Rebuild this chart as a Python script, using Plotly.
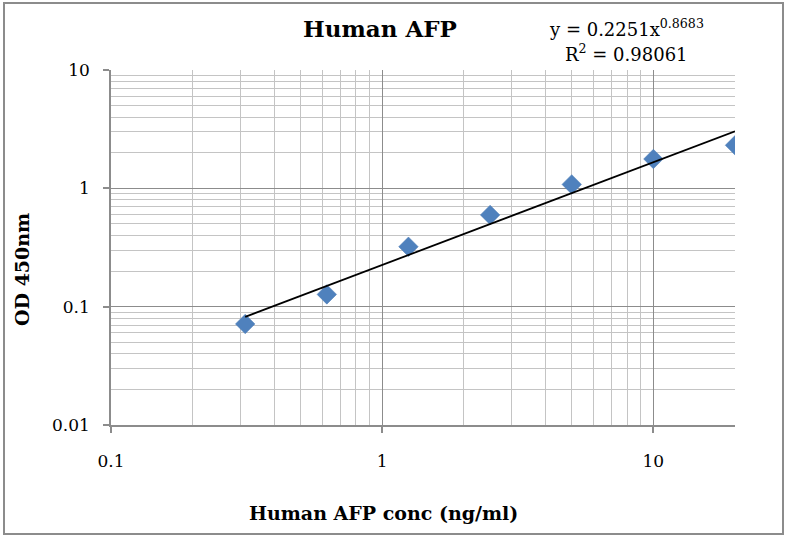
import plotly.graph_objects as go

# Data
conc = [0.3125, 0.625, 1.25, 2.5, 5, 10, 20]
od = [0.0714, 0.127, 0.321, 0.596, 1.08, 1.77, 2.31]

# Power trendline coefficients shown on the chart
fit_a = 0.2251
fit_b = 0.8683
fit_r2 = 0.98061

x_major = [0.1, 1, 10]
x_major_text = ["0.1", "1", "10"]
y_major = [0.01, 0.1, 1, 10]
y_major_text = ["0.01", "0.1", "1", "10"]

x_minor = [m * d for d in (0.1, 1) for m in range(2, 10)] + [20]
y_minor = [m * d for d in (0.01, 0.1, 1) for m in range(2, 10)]

trend_x = [conc[0], conc[-1]]
trend_y = [fit_a * v ** fit_b for v in trend_x]

FONT = "DejaVu Serif"
GRID_MAJOR = "#8c8c8c"
GRID_MINOR = "#c4c4c4"

fig = go.Figure()
fig.add_trace(go.Scatter(
    x=conc, y=od, mode="markers",
    marker=dict(symbol="diamond", size=15, color="#4f81bd",
                line=dict(color="#4a7ab5", width=0.5)),
    showlegend=False,
))
fig.add_trace(go.Scatter(
    x=trend_x, y=trend_y, mode="lines",
    line=dict(color="black", width=1.8),
    showlegend=False,
))

fig.update_layout(
    width=789, height=536,
    margin=dict(l=111, r=54, t=70, b=111),
    paper_bgcolor="white", plot_bgcolor="white",
    font=dict(family=FONT, size=16, color="black"),
    xaxis=dict(
        type="log", range=[-1, 1.30103],
        tickmode="array", tickvals=x_major, ticktext=x_major_text,
        showgrid=True, gridcolor=GRID_MAJOR, gridwidth=1,
        showline=True, linecolor=GRID_MAJOR, linewidth=1.5,
        ticks="outside", ticklen=6, tickcolor=GRID_MAJOR, tickwidth=1.5,
        tickfont=dict(family=FONT, size=17), ticklabelstandoff=14,
        minor=dict(tickmode="array", tickvals=x_minor, showgrid=True,
                   gridcolor=GRID_MINOR, gridwidth=1, ticks=""),
        zeroline=False,
    ),
    yaxis=dict(
        type="log", range=[-2, 1],
        tickmode="array", tickvals=y_major, ticktext=y_major_text,
        showgrid=True, gridcolor=GRID_MAJOR, gridwidth=1,
        showline=True, linecolor=GRID_MAJOR, linewidth=1.5,
        ticks="outside", ticklen=6, tickcolor=GRID_MAJOR, tickwidth=1.5,
        tickfont=dict(family=FONT, size=17), ticklabelstandoff=10,
        minor=dict(tickmode="array", tickvals=y_minor, showgrid=True,
                   gridcolor=GRID_MINOR, gridwidth=1, ticks=""),
        zeroline=False,
    ),
    shapes=[dict(type="rect", xref="paper", yref="paper",
                 x0=(4 - 111) / 624, x1=(783 - 111) / 624,
                 y0=(425 - 534) / 355, y1=(425 - 3) / 355,
                 line=dict(color="#8c8c8c", width=2), layer="below")],
    annotations=[
        dict(text="<b>Human AFP</b>", xref="paper", yref="paper",
             x=(380 - 111) / 624, y=(425 - 29) / 355, showarrow=False,
             xanchor="center", yanchor="middle",
             font=dict(family=FONT, size=23)),
        dict(text="y = 0.2251x<sup>0.8683</sup>", xref="paper", yref="paper",
             x=(626 - 111) / 624, y=(425 - 28) / 355, showarrow=False,
             xanchor="center", yanchor="middle",
             font=dict(family=FONT, size=18)),
        dict(text="R<sup>2</sup> = 0.98061", xref="paper", yref="paper",
             x=(626 - 111) / 624, y=(425 - 53) / 355, showarrow=False,
             xanchor="center", yanchor="middle",
             font=dict(family=FONT, size=18)),
        dict(text="<b>OD 450nm</b>", xref="paper", yref="paper",
             x=(22 - 111) / 624, y=(425 - 270) / 355, showarrow=False,
             xanchor="center", yanchor="middle", textangle=-90,
             font=dict(family=FONT, size=19)),
        dict(text="<b>Human AFP conc (ng/ml)</b>", xref="paper", yref="paper",
             x=(383 - 111) / 624, y=(425 - 513) / 355, showarrow=False,
             xanchor="center", yanchor="middle",
             font=dict(family=FONT, size=19)),
    ],
)

fig.write_html("out.html",
               config={"displayModeBar": False},
               post_script="document.body.style.margin='0';document.body.style.padding='0';")
